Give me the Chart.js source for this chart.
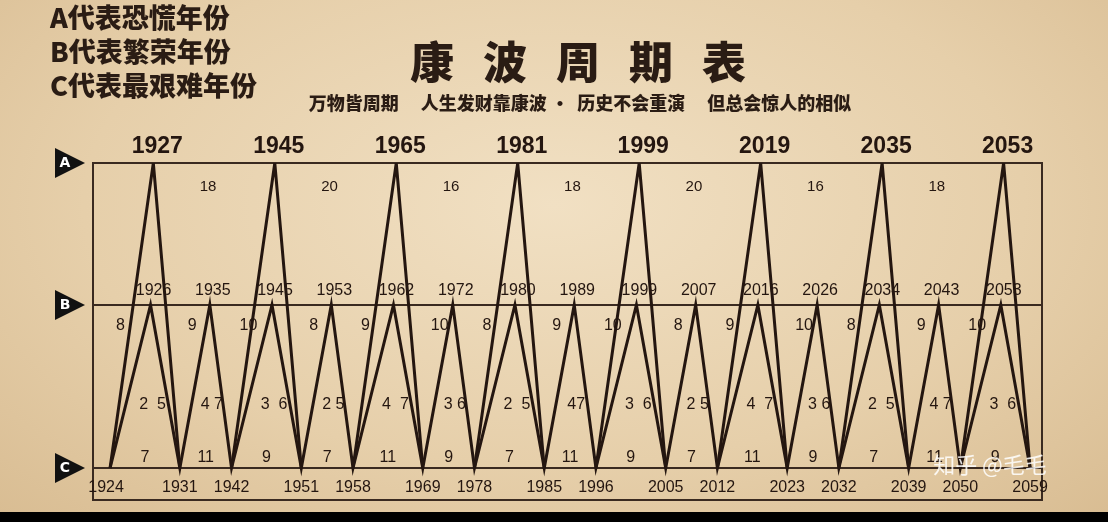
<!DOCTYPE html><html><head><meta charset="utf-8">
<script src="https://cdn.jsdelivr.net/npm/chart.js@4"></script>
<style>html,body{margin:0;padding:0;background:#000}
#wrap{position:relative;width:1108px;height:512px;background:radial-gradient(ellipse at 50% 40%,#f1e0c3 0%,#e6cfaa 60%,#d9bd93 100%);}
canvas{display:block}</style></head><body>
<div id="wrap"><canvas id="c" width="1108" height="512"></canvas></div>
<script>
const cYears=[1924,1931,1942,1951,1958,1969,1978,1985,1996,2005,2012,2023,2032,2039,2050,2059];
const bYears=[1926,1935,1945,1953,1962,1972,1980,1989,1999,2007,2016,2026,2034,2043,2053];
const aYears=[1927,1945,1965,1981,1999,2019,2035,2053];
const aGaps=[18,20,16,18,20,16,18];
const bGapLabels=[8,9,10,8,9,10,8,9,10,8,9,10,8,9,10];
const midLabels=["2  5","4 7","3  6","2 5","4  7","3 6","2  5","47","3  6","2 5","4  7","3 6","2  5","4 7","3  6"];
const lowLabels=[7,11,9,7,11,9,7,11,9,7,11,9,7,11,9];
const levelA=1.87, levelB=1, levelC=0;

const cx=[0];
for(let i=0;i<cYears.length-1;i++){cx.push(cx[i]+(i%2===0?1.35:1));}
const bx=bYears.map((y,i)=>cx[i]+(cx[i+1]-cx[i])*0.58);
const ax=aYears.map((y,k)=>cx[2*k]+(cx[2*k+1]-cx[2*k])*0.62);

const zig=[];
cYears.forEach((y,i)=>{zig.push({x:cx[i],y:levelC});if(i<bYears.length)zig.push({x:bx[i],y:levelB});});
const aPts=[];
aYears.forEach((y,k)=>{aPts.push({x:cx[2*k],y:levelC},{x:ax[k],y:levelA},{x:cx[2*k+1],y:levelC},{x:NaN,y:NaN});});

const ink='#241610';
const deco={id:'deco',
beforeDatasetsDraw(ch){const c=ch.ctx,a=ch.chartArea,Y=ch.scales.y;
 c.save();c.strokeStyle='#3a2a20';c.lineWidth=2;
 c.strokeRect(a.left,a.top,a.right-a.left,a.bottom-a.top);
 [levelB,levelC].forEach(v=>{const p=Y.getPixelForValue(v);c.beginPath();c.moveTo(a.left,p);c.lineTo(a.right,p);c.stroke();});
 c.restore();},
afterDatasetsDraw(ch){const c=ch.ctx,X=ch.scales.x,Y=ch.scales.y;
 const t=(s,x,y,f,al)=>{c.font=f;c.textAlign=al||'center';c.textBaseline='middle';c.fillText(s,x,y);};
 c.save();c.fillStyle=ink;
 const yA=Y.getPixelForValue(levelA),yB=Y.getPixelForValue(levelB),yC=Y.getPixelForValue(levelC);
 aYears.forEach((s,k)=>t(String(s),X.getPixelForValue(ax[k])+4,yA-16,'bold 23px "Liberation Sans"'));
 aGaps.forEach((s,k)=>t(String(s),(X.getPixelForValue(ax[k])+X.getPixelForValue(ax[k+1]))/2-6,yA+24,'15px "Liberation Sans"'));
 bYears.forEach((s,i)=>t(String(s),X.getPixelForValue(bx[i])+3,yB-14,'16px "Liberation Sans"'));
 cYears.forEach((s,i)=>t(String(s),X.getPixelForValue(cx[i])+(i==0?-4:0),yC+20,'16px "Liberation Sans"'));
 for(let i=0;i<bYears.length;i++){const x0=X.getPixelForValue(cx[i]),x1=X.getPixelForValue(cx[i+1]),xb=X.getPixelForValue(bx[i]);
  t(String(bGapLabels[i]),x0+(i==0?6:8),yB+21,'16px "Liberation Sans"','left');
  t(midLabels[i],xb+2,yB+100,'16px "Liberation Sans"');
  t(String(lowLabels[i]),(x0+x1)/2,yC-10,'16px "Liberation Sans"');}
 [['A',yA],['B',yB],['C',yC]].forEach(([l,y])=>{c.fillStyle='#111';c.beginPath();c.moveTo(55,y-15);c.lineTo(85,y);c.lineTo(55,y+15);c.closePath();c.fill();
  c.fillStyle='#fff';t(l,65,y,'bold 14px "DejaVu Sans"');});
 c.fillStyle='#2a1c14';
 ['A代表恐慌年份','B代表繁荣年份','C代表最艰难年份'].forEach((s,i)=>t(s,50,18+i*34,'900 27px "Noto Sans CJK SC"','left'));
 c.font='900 44px "Noto Sans CJK SC"';c.textAlign='center';c.textBaseline='middle';
 '康波周期表'.split('').forEach((ch2,i)=>{c.fillText(ch2,432+i*73,62);});
 t('万物皆周期　 人生发财靠康波 ·  历史不会重演　 但总会惊人的相似',580,103,'900 18px "Noto Sans CJK SC"');
 c.fillStyle='rgba(255,255,255,0.85)';t('知乎 @毛毛',990,465,'22px "Noto Sans CJK SC"');
 c.restore();}};

new Chart(document.getElementById('c'),{type:'scatter',
 data:{datasets:[
  {data:zig,showLine:true,borderColor:ink,borderWidth:3,pointRadius:0,tension:0},
  {data:aPts,showLine:true,spanGaps:false,borderColor:ink,borderWidth:3,pointRadius:0,tension:0}]},
 options:{responsive:false,animation:false,
  layout:{padding:{left:93,right:66,top:163,bottom:12}},
  plugins:{legend:{display:false},tooltip:{enabled:false}},
  scales:{x:{type:'linear',display:false,min:-0.33,max:18.03},
          y:{type:'linear',display:false,min:-0.196,max:1.87}}},
 plugins:[deco]});
</script></body></html>
